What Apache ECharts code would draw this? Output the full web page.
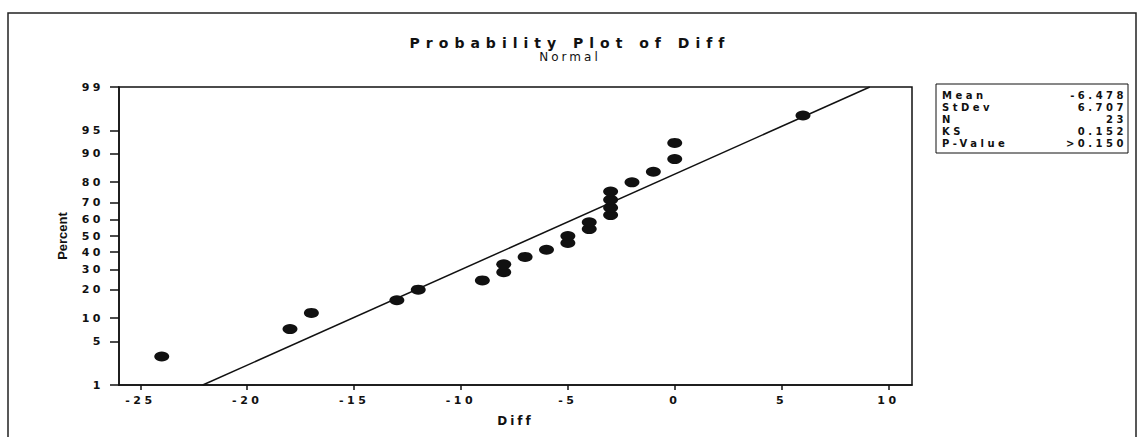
<!DOCTYPE html>
<html>
<head>
<meta charset="utf-8">
<script src="https://cdn.jsdelivr.net/npm/echarts@6/dist/echarts.min.js"></script>
<style>
  html, body { margin: 0; padding: 0; background: #fff; }
  #chart { width: 1140px; height: 437px; }
  /* minitab scans have wide, spaced-out lettering */
  #chart text { letter-spacing: 3.5px; }
  #chart text[style*="Verdana"] { letter-spacing: 6px; }
  #chart text[style*="Tahoma"] { letter-spacing: 3px; }
  #chart text[style*="Arial"] { letter-spacing: 0; }
</style>
</head>
<body>
<div id="chart"></div>
<script>
// sample values (Diff) sorted, and their plotted percent (median ranks)
const diffValues = [-24, -18, -17, -13, -12, -9, -8, -8, -7, -6, -5, -5, -4, -4, -3, -3, -3, -3, -2, -1, 0, 0, 6];
const percentValues = [3.0, 7.3, 11.5, 15.8, 20.1, 24.4, 28.6, 32.9, 37.2, 41.5, 45.7, 50.0, 54.3, 58.5, 62.8, 67.1, 71.4, 75.6, 79.9, 84.2, 88.5, 92.7, 97.0];
const percentTicks = [1, 5, 10, 20, 30, 40, 50, 60, 70, 80, 90, 95, 99];
const diffTicks = [-25, -20, -15, -10, -5, 0, 5, 10];
const statLabels = ["Mean", "StDev", "N", "KS", "P-Value"];
const statValues = ["-6.478", "6.707", "23", "0.152", ">0.150"];
const fitMean = -6.478;
const fitStDev = 6.707;

// inverse normal cdf (Acklam) - the probability scale of the y axis
function probit(p) {
  const a = [-3.969683028665376e+01, 2.209460984245205e+02, -2.759285104469687e+02, 1.383577518672690e+02, -3.066479806614716e+01, 2.506628277459239e+00];
  const b = [-5.447609879822406e+01, 1.615858368580409e+02, -1.556989798598866e+02, 6.680131188771972e+01, -1.328068155833025e+01];
  const c = [-7.784894002430293e-03, -3.223964580411365e-01, -2.400758277161838e+00, -2.549732539343734e+00, 4.374664141464968e+00, 2.938163982698783e+00];
  const d = [7.784695709041462e-03, 3.224671290700398e-01, 2.445134137142996e+00, 3.754408661907416e+00];
  const pl = 0.02425;
  let q, r;
  if (p < pl) {
    q = Math.sqrt(-2 * Math.log(p));
    return (((((c[0] * q + c[1]) * q + c[2]) * q + c[3]) * q + c[4]) * q + c[5]) / ((((d[0] * q + d[1]) * q + d[2]) * q + d[3]) * q + 1);
  }
  if (p > 1 - pl) {
    q = Math.sqrt(-2 * Math.log(1 - p));
    return -(((((c[0] * q + c[1]) * q + c[2]) * q + c[3]) * q + c[4]) * q + c[5]) / ((((d[0] * q + d[1]) * q + d[2]) * q + d[3]) * q + 1);
  }
  q = p - 0.5;
  r = q * q;
  return (((((a[0] * r + a[1]) * r + a[2]) * r + a[3]) * r + a[4]) * r + a[5]) * q / (((((b[0] * r + b[1]) * r + b[2]) * r + b[3]) * r + b[4]) * r + 1);
}

const zTicks = percentTicks.map(p => probit(p / 100));
const zMin = zTicks[0];
const zMax = zTicks[zTicks.length - 1];
const points = diffValues.map((x, i) => [x, probit(percentValues[i] / 100)]);
// fitted normal line is straight on this scale
const fitLine = [[fitMean + zMin * fitStDev, zMin], [fitMean + zMax * fitStDev, zMax]];

const labelFont = "DejaVu Sans";
const ink = "#111";

const statsGraphic = [];
statsGraphic.push({
  type: "rect",
  shape: { x: 936, y: 84, width: 192, height: 69 },
  style: { fill: "#fff", stroke: ink, lineWidth: 1 }
});
statLabels.forEach((lab, i) => {
  statsGraphic.push({
    type: "text", x: 942, y: 95 + i * 12,
    style: { text: lab, fill: ink, font: "bold 10px DejaVu Sans", textAlign: "left", textVerticalAlign: "middle" }
  });
  statsGraphic.push({
    type: "text", x: 1127, y: 95 + i * 12,
    style: { text: statValues[i], fill: ink, font: "bold 10px DejaVu Sans", textAlign: "right", textVerticalAlign: "middle" }
  });
});

const chart = echarts.init(document.getElementById("chart"), null, { renderer: "svg" });
chart.setOption({
  animation: false,
  backgroundColor: "#fff",
  title: {
    text: "Probability Plot of Diff",
    subtext: "Normal",
    left: "center",
    top: 31,
    itemGap: 1,
    textStyle: { fontFamily: "Verdana, DejaVu Sans", fontWeight: "bold", fontSize: 14, color: ink },
    subtextStyle: { fontFamily: "Tahoma, DejaVu Sans", fontSize: 12, color: ink }
  },
  graphic: [
    {
      type: "rect",
      shape: { x: 8, y: 13, width: 1128, height: 440 },
      style: { fill: "none", stroke: "#222", lineWidth: 1.5 },
      silent: true
    }
  ].concat(statsGraphic),
  grid: {
    left: 119, right: 228, top: 87, bottom: 52,
    show: true, borderColor: ink, borderWidth: 1.5
  },
  xAxis: {
    type: "value",
    min: -26,
    max: 11.1,
    name: "Diff",
    nameLocation: "middle",
    nameGap: 30,
    nameTextStyle: { fontFamily: "Tahoma, DejaVu Sans", fontWeight: "bold", fontSize: 12, color: ink },
    axisLine: { show: true, onZero: false, lineStyle: { color: ink, width: 1.5 } },
    axisTick: { show: true, length: 5, customValues: diffTicks, lineStyle: { color: ink, width: 1.5 } },
    axisLabel: {
      customValues: diffTicks,
      margin: 10,
      fontFamily: labelFont, fontWeight: "bold", fontSize: 11, color: ink
    },
    splitLine: { show: false }
  },
  yAxis: {
    type: "value",
    min: zMin,
    max: zMax,
    name: "Percent",
    nameLocation: "middle",
    nameRotate: 90,
    nameGap: 50,
    nameTextStyle: { fontFamily: "Arial, Liberation Sans", fontWeight: "bold", fontSize: 13, color: ink },
    axisLine: { show: true, onZero: false, lineStyle: { color: ink, width: 1.5 } },
    axisTick: { show: true, length: 9, customValues: zTicks, lineStyle: { color: ink, width: 1.5 } },
    axisLabel: {
      customValues: zTicks,
      margin: 15,
      fontFamily: labelFont, fontWeight: "bold", fontSize: 11, color: ink,
      formatter: function (v) {
        let best = 0;
        zTicks.forEach((z, i) => { if (Math.abs(z - v) < Math.abs(zTicks[best] - v)) best = i; });
        return String(percentTicks[best]);
      }
    },
    splitLine: { show: false }
  },
  series: [
    {
      type: "line",
      data: fitLine,
      symbol: "none",
      silent: true,
      lineStyle: { color: ink, width: 1.5 },
      z: 2
    },
    {
      type: "scatter",
      data: points,
      symbol: "circle",
      symbolSize: [15, 10],
      itemStyle: { color: ink, opacity: 1 },
      z: 3
    }
  ]
});
</script>
</body>
</html>
